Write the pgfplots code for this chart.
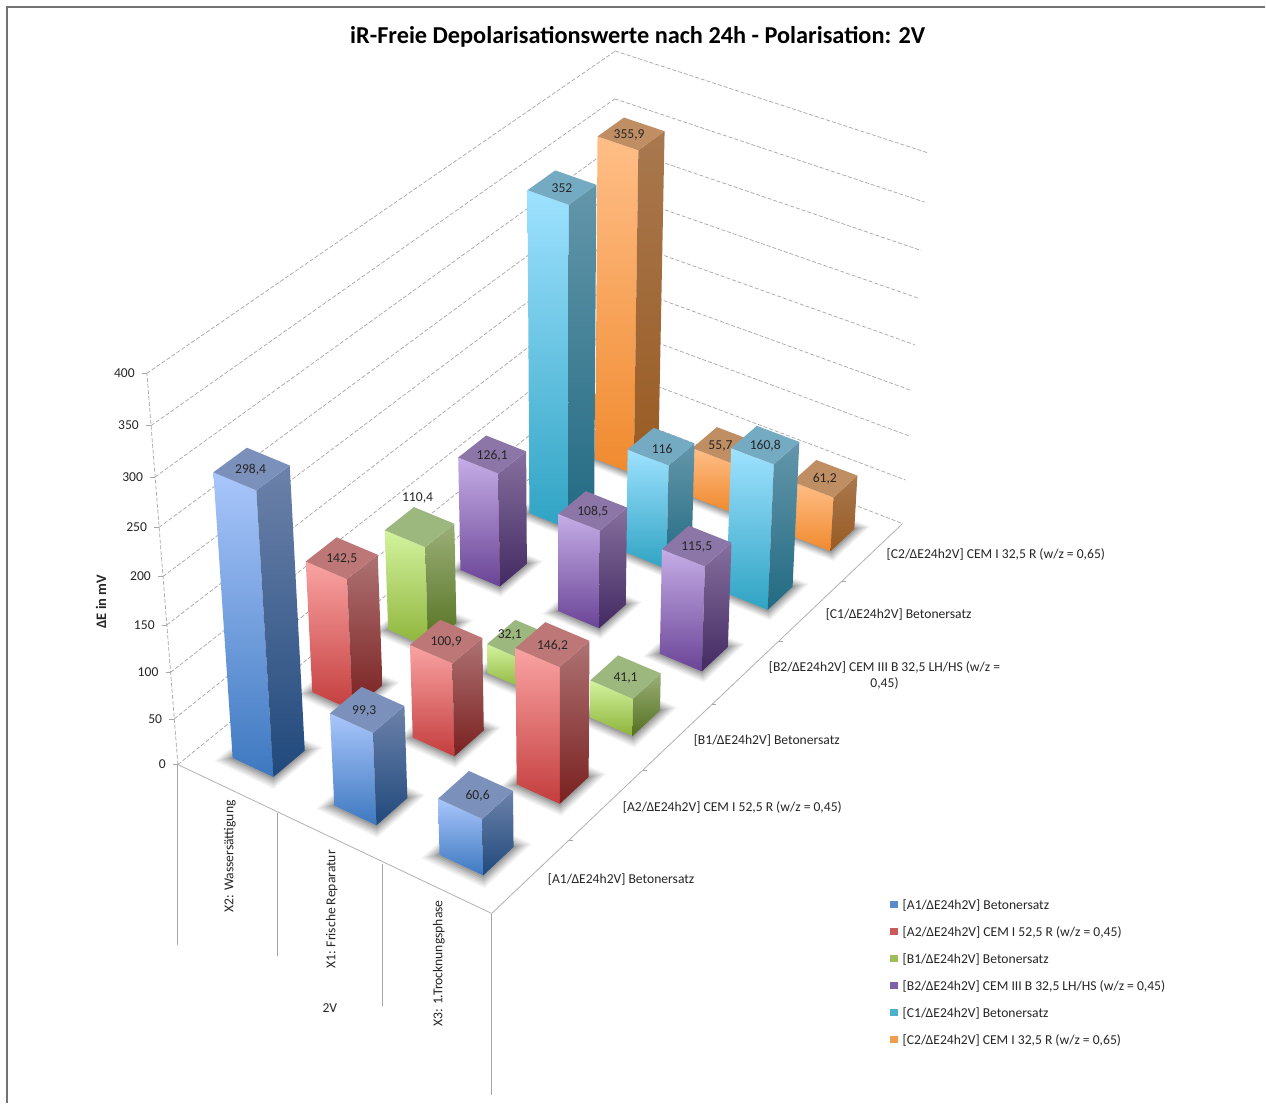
\documentclass[border=0pt]{standalone}
\usepackage{fontspec}
\setmainfont{Carlito}
\usepackage{pgfplots}
\usepackage{pgfplotstable}
\pgfplotsset{compat=1.18}

% Face colours per series: front face top/bottom, side face top/bottom, lid
\definecolor{L0}{HTML}{A9C6FB}\definecolor{B0}{HTML}{3D78C0}\definecolor{SL0}{HTML}{6C82AA}\definecolor{SB0}{HTML}{20497C}\definecolor{T0}{HTML}{7B90BB}
\definecolor{L1}{HTML}{FAA3A3}\definecolor{B1}{HTML}{C43D3D}\definecolor{SL1}{HTML}{AE7272}\definecolor{SB1}{HTML}{7A2020}\definecolor{T1}{HTML}{BD7777}
\definecolor{L2}{HTML}{D3F39E}\definecolor{B2}{HTML}{8DB43A}\definecolor{SL2}{HTML}{9AAF78}\definecolor{SB2}{HTML}{54701F}\definecolor{T2}{HTML}{9DB87E}
\definecolor{L3}{HTML}{C5ADE6}\definecolor{B3}{HTML}{6A4496}\definecolor{SL3}{HTML}{86709E}\definecolor{SB3}{HTML}{432A62}\definecolor{T3}{HTML}{8C76A7}
\definecolor{L4}{HTML}{9EE2FF}\definecolor{B4}{HTML}{2FA3C3}\definecolor{SL4}{HTML}{6496AA}\definecolor{SB4}{HTML}{216A82}\definecolor{T4}{HTML}{75ABC2}
\definecolor{L5}{HTML}{FFBE87}\definecolor{B5}{HTML}{F08A2E}\definecolor{SL5}{HTML}{A9784F}\definecolor{SB5}{HTML}{995B22}\definecolor{T5}{HTML}{C08E63}
\definecolor{txt}{HTML}{262626}
\definecolor{gridc}{HTML}{A6A6A6}

% series (0 = front row), category (0..2), value in mV, label offset; listed from the back row forward
\pgfplotstableread{
s c v dx dy
5 0 355.9 -2 1
5 1 55.7 -4 1
5 2 61.2 0 0
4 0 352 0 1
4 1 116 1 2
4 2 160.8 0 1
3 0 126.1 0 1
3 1 108.5 0 1
3 2 115.5 0 1
2 0 110.4 -2 -29
2 1 32.1 -12 -6
2 2 41.1 0 1
1 0 142.5 0 1
1 1 100.9 0 1
1 2 146.2 0 1
0 0 298.4 -1 1
0 1 99.3 -3 1
0 2 60.6 2 1
}\bardata

% Perspective projection of floor position (u,v) and relative height h
\newcommand\proj[5]{%
  \pgfmathsetmacro\pw{1-0.05173*(#1)+0.15175*(#2)-0.07506*(#3)}%
  \pgfmathsetmacro#4{(178+288.55*(#1)+526.9*(#2)-42.03*(#3))/\pw}%
  \pgfmathsetmacro#5{2+(763+101.8*(#1)-290.75*(#2)-419.4*(#3))/\pw}%
}

% Dashed or solid line between two model points
\newcommand\mline[7]{%
  \proj{#2}{#3}{#4}\pa\pb \proj{#5}{#6}{#7}\pc\pd
  \edef\tmp{\noexpand\addplot[forget plot,no markers,#1] coordinates {(\pa,\pb)(\pc,\pd)};}\tmp
}

\newcommand\floorpoly[2]{% grow, opacity
  \pgfmathsetmacro\gu{#1}\pgfmathsetmacro\gv{0.6*#1}%
  \proj{\uA-\gu}{\vA-\gv}{0}\fax\fay \proj{\uB+\gu}{\vA-\gv}{0}\fbx\fby
  \proj{\uB+\gu}{\vB+\gv}{0}\fcx\fcy \proj{\uA-\gu}{\vB+\gv}{0}\fdx\fdy
  \edef\tmp{\noexpand\addplot[forget plot,no markers,draw=none,fill=black,fill opacity=#2]
    coordinates {(\fax,\fay)(\fbx,\fby)(\fcx,\fcy)(\fdx,\fdy)(\fax,\fay)};}\tmp
}

\newcommand\drawbar[1]{%
  \pgfplotstablegetelem{#1}{s}\of\bardata\edef\bs{\pgfplotsretval}%
  \pgfplotstablegetelem{#1}{c}\of\bardata\edef\bc{\pgfplotsretval}%
  \pgfplotstablegetelem{#1}{v}\of\bardata\edef\bv{\pgfplotsretval}%
  \pgfplotstablegetelem{#1}{dx}\of\bardata\edef\bdx{\pgfplotsretval}%
  \pgfplotstablegetelem{#1}{dy}\of\bardata\edef\bdy{\pgfplotsretval}%
  \pgfmathsetmacro\uA{(\bc+0.5)/3-0.0675}\pgfmathsetmacro\uB{(\bc+0.5)/3+0.0675}%
  \pgfmathsetmacro\vA{(\bs+0.5)/6-0.0325}\pgfmathsetmacro\vB{(\bs+0.5)/6+0.0325}%
  \pgfmathsetmacro\hh{\bv/400}%
  % soft contact shadow on the floor
  \floorpoly{0.030}{0.05}\floorpoly{0.025}{0.06}\floorpoly{0.020}{0.07}%
  \floorpoly{0.015}{0.08}\floorpoly{0.010}{0.09}\floorpoly{0.005}{0.10}%
  \proj{\uA}{\vA}{0}\ax\ay \proj{\uB}{\vA}{0}\bx\by \proj{\uB}{\vB}{0}\cx\cy
  \proj{\uA}{\vA}{\hh}\atx\aty \proj{\uB}{\vA}{\hh}\btx\bty
  \proj{\uB}{\vB}{\hh}\ctx\cty \proj{\uA}{\vB}{\hh}\dtx\dty
  \edef\tmp{\noexpand\addplot[forget plot,no markers,draw=none,top color=L\bs,bottom color=B\bs]
    coordinates {(\ax,\ay)(\bx,\by)(\btx,\bty)(\atx,\aty)(\ax,\ay)};}\tmp
  \edef\tmp{\noexpand\addplot[forget plot,no markers,draw=none,top color=SL\bs,bottom color=SB\bs]
    coordinates {(\bx,\by)(\cx,\cy)(\ctx,\cty)(\btx,\bty)(\bx,\by)};}\tmp
  \edef\tmp{\noexpand\addplot[forget plot,no markers,draw=none,fill=T\bs]
    coordinates {(\atx,\aty)(\btx,\bty)(\ctx,\cty)(\dtx,\dty)(\atx,\aty)};}\tmp
  \proj{(\uA+\uB)/2}{(\vA+\vB)/2}{\hh}\lx\ly
  \pgfmathsetmacro\lx{\lx+\bdx}\pgfmathsetmacro\ly{\ly+\bdy}%
  \edef\tmp{\noexpand\node[font=\noexpand\fontsize{13.6}{15}\noexpand\selectfont,text=txt,inner sep=0pt]
    at (axis cs:\lx,\ly) {\noexpand\pgfmathprintnumber{\bv}};}\tmp
}

\begin{document}
\begin{tikzpicture}
% full canvas, so that the picture keeps its margins with the axis box hidden
\path[fill=white] (0,0) rectangle (1266pt,1104pt);
\begin{axis}[
  width=1266pt,height=1104pt,scale only axis,
  xmin=0,xmax=1266,ymin=0,ymax=1104,y dir=reverse,
  hide axis,clip=false,
  title={\bfseries iR-Freie Depolarisationswerte nach 24h - Polarisation: 2V},
  title style={at={(0.504,0.961)},anchor=center,font=\fontsize{24.3}{28}\selectfont,text=black,inner sep=0pt},
  /pgf/number format/.cd,use comma,1000 sep={},assume math mode=true,precision=1,
  /pgfplots/.cd,
  legend style={at={(axis cs:890,897.5)},anchor=north west,draw=none,fill=none,inner sep=0pt,
    font=\fontsize{13.6}{15}\selectfont,text=txt,row sep=11.7pt,/tikz/column sep=3pt},
  legend cell align=left,
  legend image code/.code={\fill[#1] (0pt,-3pt) rectangle (8pt,4pt);},
]
\addlegendimage{fill=B0!85!white,draw=none}\addlegendentry{[A1/ΔE24h2V] Betonersatz}
\addlegendimage{fill=B1!85!white,draw=none}\addlegendentry{[A2/ΔE24h2V] CEM I 52,5 R (w/z = 0,45)}
\addlegendimage{fill=B2!85!white,draw=none}\addlegendentry{[B1/ΔE24h2V] Betonersatz}
\addlegendimage{fill=B3!85!white,draw=none}\addlegendentry{[B2/ΔE24h2V] CEM III B 32,5 LH/HS (w/z = 0,45)}
\addlegendimage{fill=B4!85!white,draw=none}\addlegendentry{[C1/ΔE24h2V] Betonersatz}
\addlegendimage{fill=B5!85!white,draw=none}\addlegendentry{[C2/ΔE24h2V] CEM I 32,5 R (w/z = 0,65)}

% outer chart frame
\addplot[forget plot,no markers,color=black!55,line width=1.4pt] coordinates {(1266,7)(7,7)(7,1104)};

% wall gridlines and value axis
\pgfplotsforeachungrouped \k in {0,50,...,400}{%
  \pgfmathsetmacro\hk{\k/400}%
  \mline{color=gridc,line width=0.7pt,dash pattern=on 4pt off 2pt}{0}{0}{\hk}{0}{1}{\hk}
  \mline{color=gridc,line width=0.7pt,dash pattern=on 4pt off 2pt}{0}{1}{\hk}{1}{1}{\hk}
  \proj{0}{0}{\hk}\tx\ty
  \pgfmathsetmacro\tl{\tx-5}%
  \edef\tmp{\noexpand\addplot[forget plot,no markers,color=gridc,line width=0.7pt] coordinates {(\tl,\ty)(\tx,\ty)};}\tmp
  \pgfmathsetmacro\tl{\tx-12}%
  \edef\tmp{\noexpand\node[anchor=east,inner sep=0pt,text=txt,font=\noexpand\fontsize{13.6}{15}\noexpand\selectfont] at (axis cs:\tl,\ty) {\k};}\tmp
}
\mline{color=gridc,line width=0.7pt,dash pattern=on 4pt off 2pt}{0}{0}{0}{0}{0}{1}

% floor edges
\mline{color=black!30,line width=0.8pt}{0}{0}{0}{1}{0}{0}
\mline{color=black!30,line width=0.8pt}{1}{0}{0}{1}{1}{0}
% series ticks on the right floor edge
\pgfplotsforeachungrouped \j in {1,...,5}{%
  \pgfmathsetmacro\vj{\j/6}%
  \proj{1}{\vj}{0}\tx\ty
  \pgfmathsetmacro\tl{\tx+4}%
  \edef\tmp{\noexpand\addplot[forget plot,no markers,color=gridc,line width=0.7pt] coordinates {(\tx,\ty)(\tl,\ty)};}\tmp
}

% multi-level category dividers
\addplot[forget plot,no markers,color=black!35,line width=1pt] coordinates {(178,765)(178,946)};
\addplot[forget plot,no markers,color=black!35,line width=1pt] coordinates {(278,813)(278,957)};
\addplot[forget plot,no markers,color=black!35,line width=1pt] coordinates {(383,864)(383,1007)};
\addplot[forget plot,no markers,color=black!35,line width=1pt] coordinates {(492,914)(492,1096)};

% columns, back row first
\pgfplotsforeachungrouped \r in {0,...,17}{\drawbar{\r}}

% category and series names
\begin{scope}[nodes={font=\fontsize{13.6}{15}\selectfont,text=txt,inner sep=0pt}]
\node[rotate=90] at (axis cs:230,857) {X2: Wassersättigung};
\node[rotate=90] at (axis cs:332,910) {X1: Frische Reparatur};
\node[rotate=90] at (axis cs:439,964) {X3: 1.Trocknungsphase};
\node at (axis cs:330,1009) {2V};
\node[anchor=west] at (axis cs:887,554.5) {[C2/ΔE24h2V] CEM I 32,5 R (w/z = 0,65)};
\node[anchor=west] at (axis cs:826,614.5) {[C1/ΔE24h2V] Betonersatz};
\node[align=center] at (axis cs:885,675.5) {[B2/ΔE24h2V] CEM III B 32,5 LH/HS (w/z =\\[1pt]0,45)};
\node[anchor=west] at (axis cs:694,740.5) {[B1/ΔE24h2V] Betonersatz};
\node[anchor=west] at (axis cs:623,807.5) {[A2/ΔE24h2V] CEM I 52,5 R (w/z = 0,45)};
\node[anchor=west] at (axis cs:548,879.5) {[A1/ΔE24h2V] Betonersatz};
\node[rotate=90,font=\fontsize{14.5}{16}\selectfont\bfseries] at (axis cs:101,602) {ΔE in mV};
\end{scope}
\end{axis}
\end{tikzpicture}
\end{document}
